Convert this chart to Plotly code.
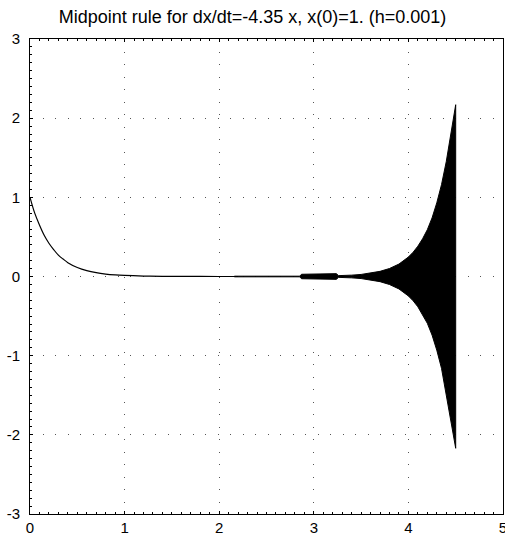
import plotly.graph_objects as go

# Decaying part of the numerical solution
decay_t = [0, 0.05, 0.1, 0.15, 0.2, 0.25, 0.3, 0.35, 0.4, 0.5, 0.6, 0.7, 0.8, 0.9, 1.0, 1.2, 1.4, 1.7, 2.0, 2.2]
decay_x = [1.0, 0.80, 0.65, 0.52, 0.42, 0.34, 0.27, 0.22, 0.175, 0.114, 0.074, 0.048, 0.031, 0.02, 0.013,
           0.0055, 0.0023, 0.0006, 0.0002, 0.0]

# Envelope of the growing parasitic oscillation
env_t = [2.16, 2.85, 2.87, 3.12, 3.15, 3.24, 3.26, 3.3, 3.4, 3.5, 3.6, 3.7, 3.8, 3.9, 4.0, 4.05, 4.1,
         4.15, 4.2, 4.25, 4.3, 4.35, 4.4, 4.45, 4.475, 4.5]
env_upper = [0.004, 0.004, 0.028, 0.028, 0.036, 0.036, 0.011, 0.011, 0.017, 0.026, 0.041, 0.065, 0.101,
             0.157, 0.246, 0.307, 0.383, 0.477, 0.591, 0.74, 0.93, 1.16, 1.45, 1.80, 2.0, 2.17]
env_lower = [-0.004, -0.004, -0.028, -0.028, -0.036, -0.036, -0.011, -0.011, -0.017, -0.026, -0.041, -0.065,
             -0.101, -0.157, -0.246, -0.307, -0.383, -0.477, -0.591, -0.74, -0.93, -1.16, -1.45, -1.80,
             -2.0, -2.17]

x_ticks = [0, 1, 2, 3, 4, 5]
y_ticks = [-3, -2, -1, 0, 1, 2, 3]

fig = go.Figure()
fig.add_trace(go.Scatter(x=decay_t, y=decay_x, mode="lines",
                         line=dict(color="black", width=1.2, shape="spline"),
                         showlegend=False, hoverinfo="skip"))
fig.add_trace(go.Scatter(x=env_t + env_t[::-1], y=env_upper + env_lower[::-1],
                         mode="lines", fill="toself", fillcolor="black",
                         line=dict(color="black", width=1),
                         showlegend=False, hoverinfo="skip"))

font = "Liberation Sans, Arial, Helvetica, sans-serif"
axis_common = dict(
    showline=True, linecolor="black", linewidth=1,
    showgrid=True, gridcolor="#555555", gridwidth=1, griddash="1px,11.5px",
    zeroline=False, ticks="inside", ticklen=3, tickcolor="black",
    tickfont=dict(family=font, size=15, color="black"),
    ticklabeloverflow="allow",
    minor=dict(ticks="inside", ticklen=2, dtick=0.1, tickcolor="black", showgrid=False),
)

fig.update_layout(
    width=505, height=536,
    margin=dict(l=30, r=2, t=39, b=22),
    paper_bgcolor="white", plot_bgcolor="white",
    title=dict(text="Midpoint rule for dx/dt=-4.35 x, x(0)=1. (h=0.001)",
               x=0.5, xref="container", xanchor="center",
               y=0.968, yref="container", yanchor="middle",
               font=dict(family=font, size=18, color="black")),
    xaxis=dict(range=[0, 5], tickvals=x_ticks, ticktext=[str(v) for v in x_ticks],
               mirror="ticks", automargin=False, **axis_common),
    yaxis=dict(range=[-3, 3], tickvals=y_ticks, ticktext=[str(v) for v in y_ticks],
               mirror=True, automargin=False, ticklabelstandoff=6, **axis_common),
)

fig.write_html("out.html",
               config={"displayModeBar": False, "staticPlot": True},
               post_script="document.body.style.margin='0';document.body.style.overflow='hidden';")
